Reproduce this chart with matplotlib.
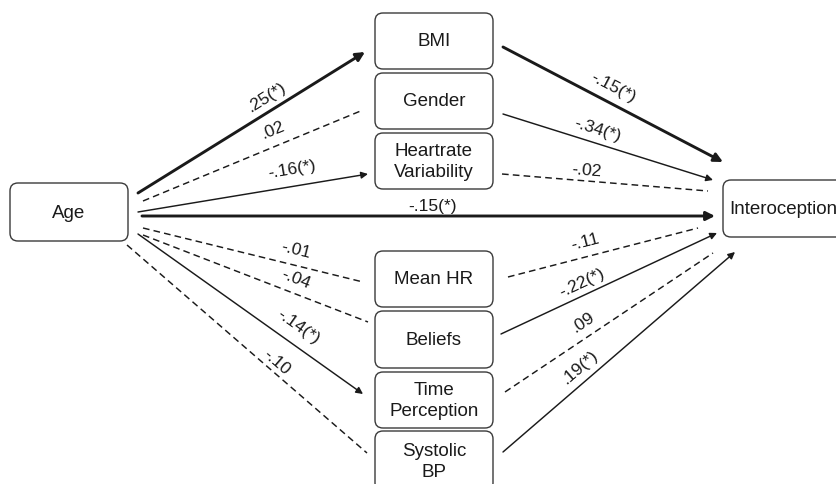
import numpy as np
import matplotlib
matplotlib.use("Agg")
import matplotlib.pyplot as plt
from matplotlib.patches import FancyBboxPatch, FancyArrowPatch
from matplotlib.lines import Line2D

plt.rcParams['font.family'] = ['Liberation Sans', 'DejaVu Sans']
plt.rcParams['lines.scale_dashes'] = False

# data
predictor = 'Age'
outcome = 'Interoception'
mediators = ['BMI', 'Gender', 'Heartrate\nVariability', 'Mean HR', 'Beliefs',
             'Time\nPerception', 'Systolic\nBP']
a_paths = ['.25(*)', '.02', '-.16(*)', '-.01', '-.04', '-.14(*)', '-.10']
b_paths = ['-.15(*)', '-.34(*)', '-.02', '-.11', '-.22(*)', '.09', '.19(*)']
direct_path = '-.15(*)'

# layout (pixel coords, y down)
age_box = (10, 183, 118, 58)
out_box = (723, 180, 125, 57)
med_x, med_w = 375, 118
med_y = [13, 73, 133, 251, 311, 372, 431]
med_h = [56, 56, 56, 56, 57, 56, 60]

a_lines = [((138, 193), (365, 52)), ((143, 201), (363, 110)), ((138, 212), (368, 174)),
           ((143, 228), (363, 282)), ((143, 235), (368, 322)), ((138, 234), (363, 394)),
           ((127, 245), (367, 453))]
a_lab = [(267, 97), (273, 130), (292, 170), (296, 250), (296, 279), (298, 327), (277, 362)]
b_lines = [((503, 47), (723, 162)), ((503, 114), (713, 180)), ((502, 174), (708, 191)),
           ((508, 277), (698, 228)), ((501, 334), (717, 233)), ((505, 392), (713, 253)),
           ((503, 452), (735, 252))]
b_lab = [(613, 88), (598, 130), (587, 171), (585, 242), (582, 283), (583, 323), (580, 367)]
direct_line = ((142, 216), (715, 216))
direct_lab = (433, 206)
thick_a, thick_b = [0], [0]

fig = plt.figure(figsize=(8.37, 4.84), dpi=100)
ax = fig.add_axes([0, 0, 1, 1])
ax.set_xlim(0, 837)
ax.set_ylim(484, 0)
ax.axis('off')

ink = '#1a1a1a'
box_ec = '#3a3a3a'


def box(x, y, w, h, text, ha='center'):
    p = FancyBboxPatch((x, y), w, h, boxstyle='round,pad=0,rounding_size=8',
                       fc='white', ec=box_ec, lw=1.0, zorder=3)
    ax.add_patch(p)
    tx = x + w / 2 if ha == 'center' else x + 6
    ax.text(tx, y + h / 2 + 1, text, ha=ha, va='center', fontsize=13.5, color=ink,
            linespacing=1.3, zorder=4)


def path(p0, p1, label, lab_xy, thick=False):
    sig = '(*)' in label
    lw = 2.1 if thick else 1.05
    if sig:
        ar = FancyArrowPatch(p0, p1, arrowstyle='-|>',
                             mutation_scale=13 if thick else 10,
                             lw=lw, color=ink, shrinkA=0, shrinkB=0, zorder=2)
        ax.add_patch(ar)
    else:
        ax.add_line(Line2D([p0[0], p1[0]], [p0[1], p1[1]], color=ink, lw=lw,
                           dashes=(4.8, 3.0), zorder=2))
    ang = -np.degrees(np.arctan2(p1[1] - p0[1], p1[0] - p0[0]))
    ax.text(lab_xy[0], lab_xy[1], label, rotation=ang, rotation_mode='anchor',
            ha='center', va='center', fontsize=12.5, color=ink, zorder=4)


box(*age_box, predictor)
box(*out_box, outcome, ha='left')
for i, m in enumerate(mediators):
    box(med_x, med_y[i], med_w, med_h[i], m)

for i in range(len(mediators)):
    path(*a_lines[i], a_paths[i], a_lab[i], thick=i in thick_a)
    path(*b_lines[i], b_paths[i], b_lab[i], thick=i in thick_b)
path(*direct_line, direct_path, direct_lab, thick=True)

fig.savefig('out.png', dpi=100)
